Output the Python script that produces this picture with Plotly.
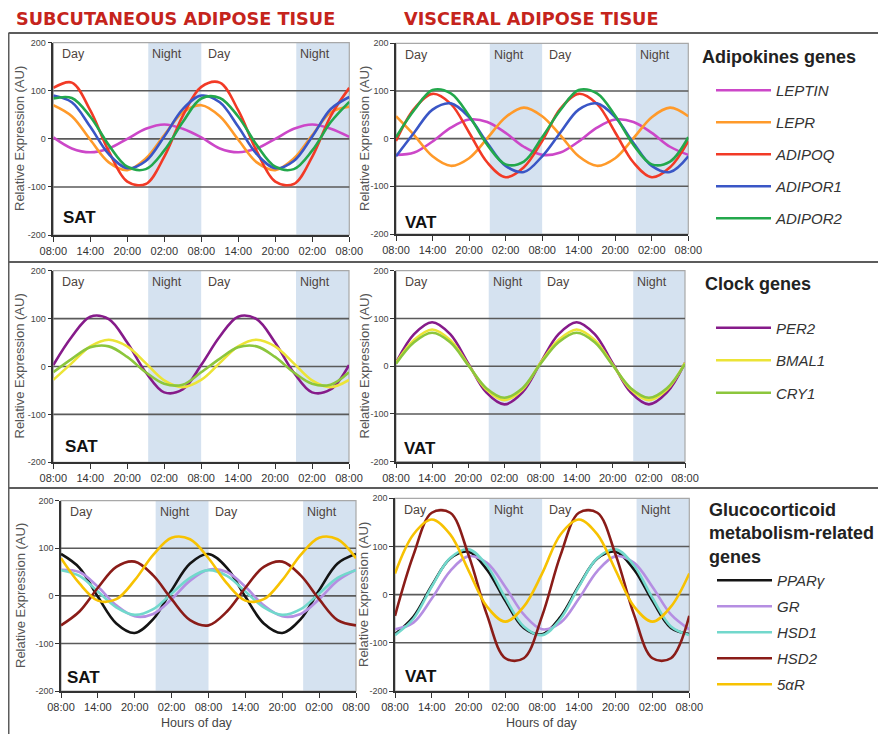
import plotly.graph_objects as go

# the page body adds an 8px margin, so the figure is drawn 8px in from the window corner
OFF = 8
W, H = 886 - OFF, 734 - OFF

# ---------------- data ----------------
hours = [0, 3, 6, 9, 12, 15, 18, 21, 24, 27, 30, 33, 36, 39, 42, 45, 48]
tick_hours = [0, 6, 12, 18, 24, 30, 36, 42, 48]
tick_labels = ["08:00", "14:00", "20:00", "02:00", "08:00", "14:00", "20:00", "02:00", "08:00"]
y_ticks = [-200, -100, 0, 100, 200]
y_tick_labels = ["-200", "-100", "0", "100", "200"]
grid_values = [-100, 0, 100]
night_periods = [(15.4, 24), (39.4, 48)]

adipo_genes = ["LEPTIN", "LEPR", "ADIPOQ", "ADIPOR1", "ADIPOR2"]
sat_leptin = [3, -20, -28, -20, 0, 21, 30, 21, 3, -20, -28, -20, 0, 21, 30, 21, 4]
sat_lepr = [70, 47, -2, -49, -65, -41, 8, 55, 70, 47, -2, -49, -65, -41, 8, 55, 67]
sat_adipoq = [106, 117, 59, -26, -89, -94, -37, 48, 108, 117, 59, -26, -89, -94, -37, 48, 106]
sat_adipor1 = [90, 76, 25, -32, -61, -46, 5, 62, 90, 76, 25, -32, -61, -46, 5, 62, 87]
sat_adipor2 = [84, 85, 46, -13, -58, -63, -24, 35, 84, 85, 46, -13, -58, -63, -24, 35, 77]
vat_leptin = [-34, -29, -6, 23, 40, 35, 12, -17, -34, -29, -6, 23, 40, 35, 12, -17, -34]
vat_lepr = [47, 7, -37, -57, -41, 1, 45, 65, 47, 7, -37, -57, -41, 1, 45, 65, 47]
vat_adipoq = [-5, 63, 94, 73, 13, -50, -81, -60, -5, 63, 94, 73, 13, -50, -81, -60, -5]
vat_adipor1 = [-37, 13, 61, 74, 45, -9, -57, -70, -37, 13, 61, 74, 45, -9, -57, -70, -37]
vat_adipor2 = [3, 60, 102, 95, 48, -13, -54, -48, 3, 60, 102, 95, 48, -13, -54, -48, 3]

clock_genes = ["PER2", "BMAL1", "CRY1"]
sat_per2 = [3, 62, 104, 99, 50, -12, -54, -48, 3, 62, 104, 99, 50, -12, -54, -48, 3]
sat_bmal1 = [-28, 7, 42, 56, 42, 7, -29, -43, -28, 7, 42, 56, 42, 7, -29, -43, -28]
sat_cry1 = [-12, 16, 40, 42, 20, -12, -36, -38, -12, 16, 40, 42, 20, -12, -36, -38, -12]
vat_per2 = [7, 67, 92, 67, 6, -55, -80, -55, 7, 67, 92, 67, 6, -55, -80, -55, 7]
vat_bmal1 = [7, 55, 77, 55, 3, -49, -71, -49, 7, 55, 77, 55, 3, -49, -71, -49, 7]
vat_cry1 = [5, 50, 70, 50, 2, -46, -66, -46, 5, 50, 70, 50, 2, -46, -66, -46, 5]

gluco_genes = ["PPARγ", "GR", "HSD1", "HSD2", "5αR"]
sat_pparg = [88, 59, -2, -58, -78, -49, 12, 68, 88, 59, -2, -58, -78, -49, 12, 68, 88]
sat_gr = [55, 50, 19, -20, -43, -38, -7, 32, 55, 50, 19, -20, -43, -38, -7, 32, 55]
sat_hsd1 = [54, 42, 9, -24, -40, -28, 5, 38, 54, 42, 9, -24, -40, -28, 5, 38, 54]
sat_hsd2 = [-62, -33, 17, 61, 72, 43, -7, -51, -62, -33, 17, 61, 72, 43, -7, -51, -62]
sat_5ar = [79, 26, -10, -7, 33, 86, 122, 119, 79, 26, -10, -7, 33, 86, 122, 119, 79]
vat_pparg = [-82, -46, 19, 75, 89, 52, -13, -69, -82, -46, 19, 75, 89, 52, -13, -69, -82]
vat_gr = [-72, -58, -8, 49, 80, 66, 16, -41, -72, -58, -8, 49, 80, 66, 16, -41, -72]
vat_hsd1 = [-84, -50, 17, 76, 94, 60, -7, -66, -84, -50, 17, 76, 94, 60, -7, -66, -84]
vat_hsd2 = [-44, 82, 170, 170, 82, -42, -132, -132, -44, 82, 170, 170, 82, -42, -132, -132, -44]
vat_5ar = [44, 125, 156, 125, 50, -25, -56, -25, 44, 125, 156, 125, 50, -25, -56, -25, 44]

adipo_colors = ["#cc47c8", "#ff9a2a", "#f23a26", "#3a56c6", "#23a84c"]
clock_colors = ["#861b8a", "#ece436", "#8cc63c"]
gluco_colors = ["#141414", "#b58ee2", "#72d8cc", "#8a1c18", "#f7c202"]

# ---------------- helpers (window pixel -> paper) ----------------
def fx(px):
    return (px - OFF) / W

def fy(py):
    return 1 - (py - OFF) / H

# panel pixel boxes: (x0, x1), (ytop, ybottom)
panels = {
    1: ((53.3, 349.3), (42.7, 235.0)),
    2: ((396.0, 688.3), (43.3, 234.0)),
    3: ((53.3, 349.0), (270.7, 462.3)),
    4: ((396.0, 685.0), (270.7, 461.7)),
    5: ((61.0, 356.0), (500.7, 691.0)),
    6: ((395.0, 689.3), (498.3, 691.0)),
}

fig = go.Figure()

groups = [
    (1, 2, adipo_genes, [sat_leptin, sat_lepr, sat_adipoq, sat_adipor1, sat_adipor2],
     [vat_leptin, vat_lepr, vat_adipoq, vat_adipor1, vat_adipor2], adipo_colors, "legend"),
    (3, 4, clock_genes, [sat_per2, sat_bmal1, sat_cry1], [vat_per2, vat_bmal1, vat_cry1],
     clock_colors, "legend2"),
    (5, 6, gluco_genes, [sat_pparg, sat_gr, sat_hsd1, sat_hsd2, sat_5ar],
     [vat_pparg, vat_gr, vat_hsd1, vat_hsd2, vat_5ar], gluco_colors, "legend3"),
]

def axname(n, a):
    return a if n == 1 else f"{a}{n}"

for sp, vp, genes, sat_list, vat_list, colors, leg in groups:
    for g, sv, vv, c in zip(genes, sat_list, vat_list, colors):
        for p, vals, show in ((sp, sv, False), (vp, vv, True)):
            fig.add_trace(go.Scatter(
                x=hours, y=vals, mode="lines", name=g,
                line=dict(color=c, width=2.6, shape="spline"),
                xaxis=axname(p, "x"), yaxis=axname(p, "y"),
                legendgroup=g, showlegend=show, legend=leg,
                hoverinfo="skip",
            ))

FONT = "Liberation Sans, Arial, sans-serif"
shapes = []
annotations = []
layout_axes = {}
for n, ((x0, x1), (yt, yb)) in panels.items():
    xa = "xaxis" if n == 1 else f"xaxis{n}"
    ya = "yaxis" if n == 1 else f"yaxis{n}"
    xr = axname(n, "x")
    yr = axname(n, "y")
    layout_axes[xa] = dict(
        domain=[fx(x0), fx(x1)], anchor=yr, range=[0, 48],
        tickvals=tick_hours, ticktext=tick_labels, ticks="outside", ticklen=5,
        tickwidth=1.2, tickcolor="#333", showline=True, linecolor="#333", linewidth=1.5,
        showgrid=False, zeroline=False, fixedrange=True, automargin=False,
        tickfont=dict(family=FONT, size=11, color="#333"),
    )
    layout_axes[ya] = dict(
        domain=[fy(yb), fy(yt)], anchor=xr, range=[-200, 200],
        tickvals=y_ticks, ticktext=y_tick_labels, ticks="outside", ticklen=4,
        tickwidth=1, tickcolor="#333", showline=True, linecolor="#333", linewidth=1.5,
        showgrid=False, zeroline=False, fixedrange=True, automargin=False,
        tickfont=dict(family="Liberation Sans Narrow, " + FONT, size=9, color="#444"),
    )
    # night shading
    for (a, b) in night_periods:
        shapes.append(dict(type="rect", xref=xr, yref=f"{yr} domain", x0=a, x1=b, y0=0, y1=1,
                           fillcolor="#d5e2f0", line=dict(width=0), layer="below"))
    # plot frame (light grey top/right)
    shapes.append(dict(type="rect", xref=f"{xr} domain", yref=f"{yr} domain", x0=0, x1=1, y0=0, y1=1,
                       line=dict(color="#a8a8a8", width=1.2), layer="below"))
    # grid lines
    for gv in grid_values:
        shapes.append(dict(type="line", xref=f"{xr} domain", yref=yr, x0=0, x1=1, y0=gv, y1=gv,
                           line=dict(color="#5a5a5a", width=1.6), layer="below"))
    # Day / Night labels
    for txt, hx in (("Day", 1.1), ("Night", night_periods[0][0] + 0.35),
                    ("Day", 24.8), ("Night", night_periods[1][0] + 0.35)):
        annotations.append(dict(text=txt, xref=xr, yref=yr, x=hx, y=176, xanchor="left",
                                yanchor="middle", showarrow=False,
                                font=dict(family=FONT, size=12.5, color="#4e4440")))

fig.update_layout(**layout_axes)

# panel tags
tags = [("SAT", 60.7, 218), ("VAT", 403, 222), ("SAT", 63, 446.7), ("VAT", 402, 448),
        ("SAT", 65, 677), ("VAT", 403, 676.7)]
for t, px, py in tags:
    annotations.append(dict(text=f"<b>{t}</b>", xref="paper", yref="paper", x=fx(px), y=fy(py),
                            xanchor="left", yanchor="middle", showarrow=False,
                            font=dict(family=FONT, size=17, color="#111")))

# y-axis titles
for px, py in ((19, 139), (364, 139), (19, 366.5), (364, 366.5), (20, 596), (363, 595)):
    annotations.append(dict(text="Relative Expression (AU)", xref="paper", yref="paper", x=fx(px), y=fy(py),
                            xanchor="center", yanchor="middle", textangle=-90, showarrow=False,
                            font=dict(family=FONT, size=13, color="#555")))

# x-axis titles
for px in (197, 542):
    annotations.append(dict(text="Hours of day", xref="paper", yref="paper", x=fx(px), y=fy(722.7),
                            xanchor="center", yanchor="middle", showarrow=False,
                            font=dict(family=FONT, size=12.5, color="#444")))

# headings
for txt, px in (("SUBCUTANEOUS ADIPOSE TISUE", 175), ("VISCERAL ADIPOSE TISUE", 531)):
    annotations.append(dict(text=f"<b>{txt}</b>", xref="paper", yref="paper", x=fx(px), y=fy(18.8),
                            xanchor="center", yanchor="middle", showarrow=False, borderpad=0,
                            font=dict(family="DejaVu Sans, " + FONT, size=17.7, color="#c5241c")))

# legend group titles
for txt, px, py in (("Adipokines genes", 700, 57), ("Clock genes", 703, 284),
                    ("Glucocorticoid<br>metabolism-related<br>genes", 707, 533.5)):
    annotations.append(dict(text=f"<b>{txt}</b>", xref="paper", yref="paper", x=fx(px), y=fy(py),
                            xanchor="left", yanchor="middle", align="left", showarrow=False,
                            font=dict(family=FONT, size=18, color="#222")))

# outer frame lines
frame_col = "#5c5c5c"
for (xa_, ya_, xb_, yb_) in ((8.5, 33, 886, 33), (8.5, 33, 8.5, 734), (8.5, 262, 886, 262), (8.5, 488, 886, 488)):
    shapes.append(dict(type="line", xref="paper", yref="paper", x0=fx(xa_), y0=fy(ya_), x1=fx(xb_), y1=fy(yb_),
                       line=dict(color=frame_col, width=2)))

leg_common = dict(xanchor="left", yanchor="top", bgcolor="rgba(0,0,0,0)", borderwidth=0,
                  itemwidth=55, itemclick=False, itemdoubleclick=False,
                  font=dict(family=FONT, size=15, color="#333", style="italic"))

fig.update_layout(
    width=W, height=H, autosize=False,
    margin=dict(l=0, r=0, t=0, b=0, pad=0, autoexpand=False),
    paper_bgcolor="white", plot_bgcolor="white",
    shapes=shapes, annotations=annotations,
    legend=dict(x=fx(711), y=fy(74), tracegroupgap=9.5, **leg_common),
    legend2=dict(x=fx(711), y=fy(311.5), tracegroupgap=10, **leg_common),
    legend3=dict(x=fx(712), y=fy(564), tracegroupgap=3.5, **leg_common),
)

fig.write_html("out.html")
